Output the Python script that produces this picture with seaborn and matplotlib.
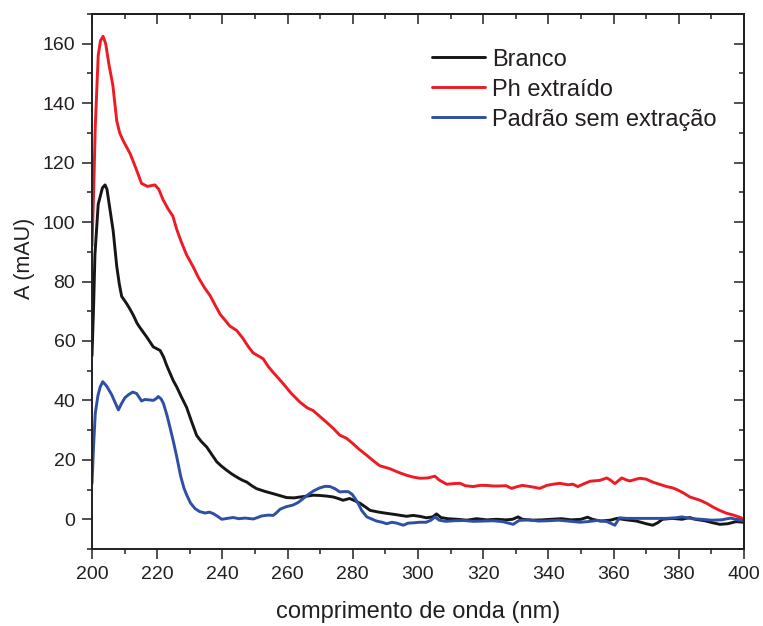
import numpy as np
import pandas as pd
import seaborn as sns
import matplotlib
matplotlib.use("Agg")
import matplotlib.pyplot as plt
from matplotlib.ticker import MultipleLocator

# ---------------- data ----------------
branco_x = [200, 200.5, 200.9, 201.9, 202.5, 203.2, 204, 204.6, 205, 206.5, 207.6, 208.4, 209.1,
            210.6, 211.6, 212.7, 213.8, 214.7, 216.8, 218.8, 220.9, 222, 222.9, 224.9, 226, 227.5,
            229, 230.5, 232.1, 233.5, 235.2, 236.8, 238.3, 239.8, 241.3, 242.8, 244.4, 246, 247.5,
            249, 250.5, 253, 255.6, 257.5, 259.7, 262, 263.8, 266, 267.9, 270, 272, 274, 275.5,
            277, 279, 280.5, 282.2, 283.8, 285.3, 288, 290.4, 293, 296.5, 298.5, 300.5, 302.6,
            304.5, 305.7, 307, 309, 312, 315, 318, 321, 324, 327, 329, 330.7, 332, 335, 338, 341,
            344, 347, 350, 352, 353.5, 356, 359, 361, 364, 367, 370, 372, 373.5, 375, 378, 381,
            383.4, 385, 388, 390.5, 392.6, 395, 397.5, 400]
branco_y = [55, 72, 89, 106, 108.5, 111.5, 112.5, 111, 108, 97, 85, 79, 75,
            72.6, 70.8, 68.6, 66, 64.5, 61.3, 58, 56.8, 54.5, 51.8, 46.7, 44.5, 41,
            37.7, 33, 28.2, 26.2, 24.3, 21.7, 19.3, 17.8, 16.5, 15.3, 14.2, 13.2, 12.5,
            11.3, 10.3, 9.4, 8.6, 8.0, 7.3, 7.2, 7.5, 7.8, 8.1, 8.0, 7.8, 7.5, 7.0,
            6.4, 7.0, 6.3, 5.4, 4.2, 3.0, 2.4, 2.0, 1.6, 1.0, 1.3, 1.0, 0.5,
            0.8, 1.8, 0.6, 0.2, 0.0, -0.3, 0.2, -0.2, 0.0, -0.2, 0.0, 0.8, 0.0, -0.3, -0.2, 0.0,
            0.2, -0.2, 0.0, 0.7, 0.0, -0.6, -0.3, 0.3, -0.2, -0.6, -1.5, -2.0, -1.2, 0.0, 0.3, 0.0,
            0.6, 0.0, -0.5, -1.2, -1.7, -1.5, -0.8, -1.0]

ph_x = [200, 200.5, 201, 201.9, 202.6, 203.4, 204.2, 205.2, 206.4, 207.6, 208.5, 209.5, 211.7,
        213.5, 215.2, 217, 219.3, 220.5, 221.8, 223.3, 224.8, 226, 227.5, 229, 231, 232.8, 234.7,
        236.2, 237.8, 239.3, 240.8, 242.3, 244.4, 246.2, 248, 249.4, 252.5, 254, 255.5, 258.6,
        261, 263.8, 266, 267.8, 270, 273, 274, 276, 278, 280, 282, 284.3, 286.5, 288.3, 291.4,
        294, 296.5, 298.5, 300.6, 303, 305.2, 306.5, 308.8, 311, 312.9, 314.5, 316.9, 319, 321,
        323, 325, 327, 328.7, 330.5, 332, 334.5, 337.4, 339.5, 341.5, 343.5, 346, 347.5, 349,
        351, 352.8, 355.8, 357.9, 359, 360.4, 362.5, 364, 365, 368, 370, 372, 374, 376.3, 378,
        379.4, 381.5, 383.4, 386.5, 388.5, 390.5, 392.5, 394.7, 396.5, 397.8, 399, 400]
ph_y = [92, 110, 132, 156, 161, 162.5, 160, 153, 146, 134, 130, 127.5, 123,
        118, 113, 112, 112.5, 111, 107.5, 104.5, 102, 97.5, 93, 89, 85, 81, 77.6,
        75.3, 72, 69, 67, 65, 63.5, 61, 58, 56, 54, 51.5, 49.5, 45.7,
        42.5, 39.4, 37.5, 36.6, 34.5, 31.6, 30.6, 28.3, 27.3, 25.5, 23.5, 21.5, 19.5, 18, 17,
        15.8, 14.8, 14.2, 13.8, 13.9, 14.5, 13.2, 11.8, 12.0, 12.1, 11.3, 11.0, 11.4, 11.4,
        11.2, 11.2, 11.3, 10.4, 11.0, 11.4, 11.0, 10.4, 11.4, 11.8, 12.1, 11.6, 11.8, 11.0,
        12.0, 12.8, 13.1, 13.9, 13.2, 12.0, 13.9, 13.2, 12.9, 13.8, 13.5, 12.5, 11.8, 11.0, 10.6,
        10.0, 8.8, 7.5, 6.4, 5.4, 4.1, 3.0, 2.0, 1.5, 1.0, 0.6, -0.3]

padrao_x = [200, 200.5, 201, 201.8, 202.5, 203.3, 204.5, 206, 207, 208.1, 209, 210.1, 211.3,
            212.5, 213.7, 215.2, 216.2, 217.3, 218.8, 219.6, 220.3, 221.2, 221.9, 223, 223.9,
            225, 226, 227.2, 228.2, 229, 230.2, 231.6, 233, 234.7, 236, 237.2, 238.5, 239.8,
            241.5, 243.3, 245, 247, 249.5, 250.8, 252, 254, 255.6, 256.7, 257.7, 259.5, 261.7,
            263.3, 264.8, 266.3, 267.9, 269.7, 271.5, 273, 274.5, 276, 277.3, 278.6, 279.8,
            280.7, 281.8, 282.7, 284.3, 286, 287.3, 289, 290.4, 292, 293.5, 295.5, 297, 298.5,
            300.5, 302.5, 304, 305.2, 306.5, 308.5, 311, 314, 317, 320, 323, 326, 329.2, 331,
            334, 337, 340, 343, 346, 349.7, 352, 355, 358, 360.4, 361.8, 364, 367, 370, 373,
            376, 379, 381, 384, 387, 390, 393, 396, 398, 400]
padrao_y = [12, 25, 35.6, 41.5, 44.5, 46.3, 44.8, 42, 39.5, 36.8, 38.8, 40.9, 42,
            42.8, 42.3, 39.8, 40.3, 40.2, 40, 40.5, 41.3, 40.5, 39, 35, 31,
            26, 21, 14.5, 10.5, 8.3, 5.5, 3.6, 2.6, 2.1, 2.4, 1.9, 1.0, 0.0,
            0.3, 0.6, 0.2, 0.4, 0.1, 0.6, 1.1, 1.4, 1.3, 2.3, 3.4, 4.2, 4.8,
            5.7, 7.0, 8.3, 9.5, 10.5, 11.1, 11.0, 10.3, 9.2, 9.3, 9.3, 8.4,
            7.0, 5.0, 3.0, 0.8, 0.0, -0.6, -1.0, -1.5, -1.0, -1.3, -2.0, -1.3, -1.2,
            -1.0, -1.0, -0.3, 0.8, -0.3, -0.7, -0.5, -0.4, -0.7, -0.6, -0.5, -0.8, -1.7, -0.4,
            -0.2, -0.6, -0.5, -0.3, -0.6, -1.0, -0.8, -0.4, -0.8, -2.0, 0.5, 0.3, 0.3, 0.3, 0.3,
            0.3, 0.5, 0.8, 0.2, 0.0, -0.3, -0.2, 0.4, -0.2, -0.5]

series_names = ["Branco", "Ph extraído", "Padrão sem extração"]
series_colors = ["#161616", "#ed1c24", "#2f4ea5"]

x_ticks = list(range(200, 401, 20))
y_ticks = list(range(0, 161, 20))

# ---------------- style ----------------
sns.set_theme(style="ticks")
plt.rcParams["font.family"] = ["Liberation Sans", "DejaVu Sans"]
text_color = "#231f20"
line_w = 2.1

fig = plt.figure(figsize=(7.63, 6.26), dpi=100)
ax = fig.add_axes([92 / 763, 1 - 549 / 626, (744 - 92) / 763, (549 - 14) / 626])

frames = []
for name, xs, ys in zip(series_names, [branco_x, ph_x, padrao_x], [branco_y, ph_y, padrao_y]):
    frames.append(pd.DataFrame({"x": xs, "y": ys, "serie": name}))
df = pd.concat(frames, ignore_index=True)

for name, color in zip(series_names, series_colors):
    sub = df[df["serie"] == name]
    sns.lineplot(data=sub, x="x", y="y", ax=ax, color=color, linewidth=line_w,
                 estimator=None, sort=False, label=name)

ax.set_xlim(200, 400)
ax.set_ylim(-10, 170)
ax.set_xticks(x_ticks)
ax.set_yticks(y_ticks)
ax.xaxis.set_minor_locator(MultipleLocator(10))
ax.yaxis.set_minor_locator(MultipleLocator(10))
ax.tick_params(axis="both", which="major", direction="out", length=7, width=1.1,
               color="#231f20", labelsize=14, labelcolor=text_color, pad=5)
ax.tick_params(axis="both", which="minor", direction="out", length=3.5, width=1.1,
               color="#231f20")
ax.tick_params(top=False, right=False, which="both")

for sp in ax.spines.values():
    sp.set_linewidth(1.4)
    sp.set_color("#231f20")

# mirrored inward ticks on top and right
secx = ax.secondary_xaxis("top")
secx.set_xticks(x_ticks)
secx.xaxis.set_minor_locator(MultipleLocator(10))
secx.tick_params(which="major", direction="in", length=7, width=1.1, color="#231f20", labeltop=False)
secx.tick_params(which="minor", direction="in", length=3.5, width=1.1, color="#231f20")
secx.spines["top"].set_linewidth(1.4)
secx.spines["top"].set_color("#231f20")

secy = ax.secondary_yaxis("right")
secy.set_yticks(y_ticks)
secy.yaxis.set_minor_locator(MultipleLocator(10))
secy.tick_params(which="major", direction="in", length=7, width=1.1, color="#231f20", labelright=False)
secy.tick_params(which="minor", direction="in", length=3.5, width=1.1, color="#231f20")
secy.spines["right"].set_linewidth(1.4)
secy.spines["right"].set_color("#231f20")

ax.set_xlabel("comprimento de onda (nm)", fontsize=17, color=text_color)
ax.set_ylabel("A (mAU)", fontsize=15.5, color=text_color)
ax.xaxis.set_label_coords(0.5, -0.097)
ax.yaxis.set_label_coords(-0.087, 0.544)

leg = ax.legend(loc="upper left", bbox_to_anchor=(432 / 763, 1 - 48.5 / 626),
                bbox_transform=fig.transFigure, frameon=False, fontsize=17,
                handlelength=2.25, handletextpad=0.3, labelspacing=0.34,
                borderpad=0, borderaxespad=0)
for t in leg.get_texts():
    t.set_color(text_color)
for l in leg.get_lines():
    l.set_linewidth(line_w)

fig.savefig("out.png", dpi=100)
